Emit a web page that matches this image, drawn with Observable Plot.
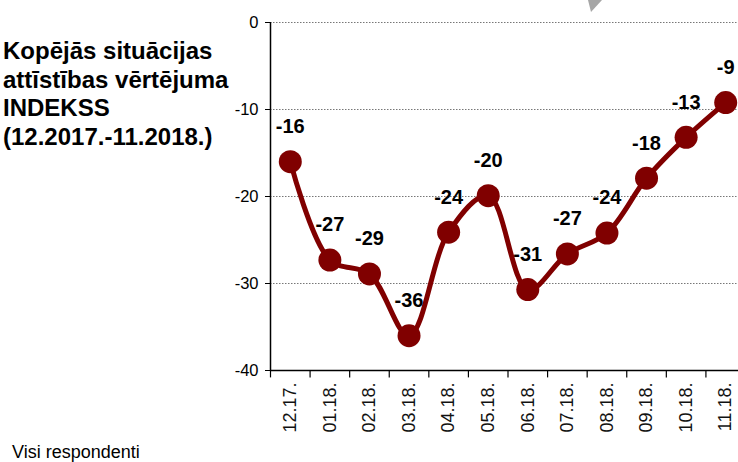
<!DOCTYPE html>
<html><head><meta charset="utf-8">
<script src="https://cdn.jsdelivr.net/npm/d3@7"></script>
<script src="https://cdn.jsdelivr.net/npm/@observablehq/plot@0.6"></script>
<style>
html,body{margin:0;padding:0;background:#fff;overflow:hidden;width:738px;height:462px;}
#wrap{position:relative;width:738px;height:462px;overflow:hidden;font-family:"Liberation Sans",Arial,sans-serif;}
#title{position:absolute;left:3px;top:37px;font-weight:bold;font-size:24px;line-height:28.5px;color:#000;white-space:nowrap;}
#caption{position:absolute;left:12px;top:442px;font-size:18px;color:#000;}
#chart{position:absolute;left:0;top:0;width:760px;}
#deco{position:absolute;left:0;top:0;}
</style></head>
<body><div id="wrap">
<div id="chart"></div>
<div id="title">Kopējās situācijas<br>attīstības vērtējuma<br>INDEKSS<br>(12.2017.-11.2018.)</div>
<div id="caption">Visi respondenti</div>
<svg id="deco" width="738" height="20"><polygon points="588,0 602,0 591,12" fill="#a6a6a6"/></svg>
</div>
<script>
const months = ["12.17.","01.18.","02.18.","03.18.","04.18.","05.18.","06.18.","07.18.","08.18.","09.18.","10.18.","11.18."];
const values = [-16,-27.3,-28.9,-36,-24.1,-19.9,-30.7,-26.6,-24.2,-17.9,-13.2,-9.2];
const labels = ["-16","-27","-29","-36","-24","-20","-31","-27","-24","-18","-13","-9"];
const yTicks = [0,-10,-20,-30,-40];

const data = months.map((m,i)=>({i, m, v: values[i], label: labels[i]}));
const idx = months.map((_,i)=>i);
const bounds = d3.range(-0.5, months.length, 1);
const red = "#800000";

const plot = Plot.plot({
  width: 745, height: 440,
  marginLeft: 270, marginRight: 0, marginTop: 22, marginBottom: 70,
  style: {fontFamily: "Liberation Sans, Arial, sans-serif", background: "transparent", overflow: "visible", maxWidth: "none"},
  x: {type: "linear", domain: [-0.5, months.length - 0.5]},
  y: {domain: [-40, 0]},
  marks: [
    Plot.gridY(yTicks.filter(t=>t>-40), {stroke: "#777", strokeOpacity: 1, strokeDasharray: "1.5,1.5", strokeWidth: 1}),
    Plot.ruleY([-40], {stroke: "#000", strokeWidth: 1.5}),
    Plot.ruleX([-0.5], {y1: -40, y2: 0, stroke: "#000", strokeWidth: 1.5}),
    Plot.ruleX(bounds, {x: d=>d, y1: -40, y2: -40.85, stroke: "#000", strokeWidth: 1.2}),
    Plot.axisY({ticks: yTicks, tickSize: 5, tickPadding: 7, fontSize: 16.5, tickFormat: d=>String(d), label: null, color: "#000"}),
    Plot.axisX({ticks: idx, tickFormat: i=>months[i], tickRotate: -90, tickSize: 0, tickPadding: 12, fontSize: 18, label: null, color: "#111"}),
    Plot.line(data, {x: "i", y: "v", stroke: red, strokeWidth: 5, curve: "catmull-rom"}),
    Plot.dot(data, {x: "i", y: "v", r: 11.5, fill: red, stroke: "none"}),
    Plot.text(data, {x: "i", y: "v", text: "label", dy: -35, fontSize: 20, fontWeight: "bold", fill: "#000"})
  ]
});
plot.style.maxWidth = "none";
document.getElementById("chart").appendChild(plot);
</script>
</body></html>
